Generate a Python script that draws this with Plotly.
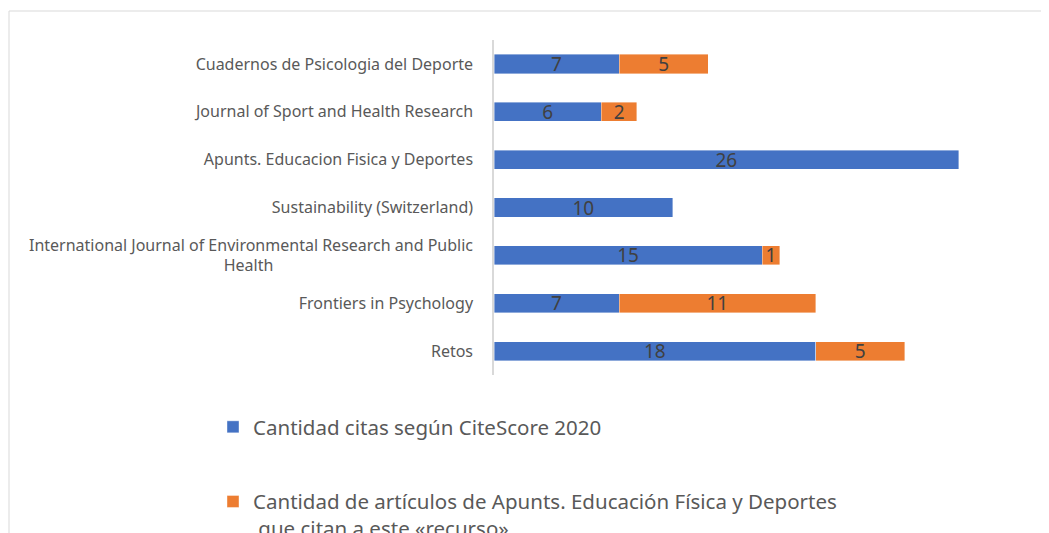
import plotly.graph_objects as go

categories = [
    "Retos",
    "Frontiers in Psychology",
    "International Journal of Environmental Research and Public<br>Health" + "\u00a0" * 48,
    "Sustainability (Switzerland)",
    "Apunts. Educacion Fisica y Deportes",
    "Journal of Sport and Health Research",
    "Cuadernos de Psicologia del Deporte",
]
citas = [18, 7, 15, 10, 26, 6, 7]
articulos = [5, 11, 1, None, None, 2, 5]
series_names = [
    "Cantidad citas según CiteScore 2020",
    "Cantidad de artículos de Apunts. Educación Física y Deportes<br> que citan a este «recurso»",
]

# figure sits at an 8px page offset
W, H = 1041, 525
L, R, T, B = 486, 19, 32, 158
pw, ph = W - L - R, H - T - B

fig = go.Figure()
for vals, name, color, grp in [
    (citas, series_names[0], "#4472C4", "a"),
    (articulos, series_names[1], "#ED7D31", "b"),
]:
    fig.add_trace(go.Bar(
        y=categories, x=vals, name=name, orientation="h",
        marker=dict(color=color, line=dict(color="rgba(255,255,255,0.5)", width=0.8)),
        text=[str(v) if v else "" for v in vals],
        textposition="inside", insidetextanchor="middle",
        textangle=0, constraintext="none",
        textfont=dict(family="Noto Sans", size=19, color="#404040"),
        legendgroup=grp,
        hoverinfo="skip",
    ))

def px(x):
    return (x - L) / pw
def py(y):
    return (H - B - y) / ph

fig.update_layout(
    width=W, height=H,
    barmode="stack", bargap=0.6,
    margin=dict(l=L, r=R, t=T, b=B, autoexpand=False),
    paper_bgcolor="white", plot_bgcolor="white",
    font=dict(family="Noto Sans", color="#595959"),
    xaxis=dict(range=[0, 30], visible=False, showgrid=False),
    yaxis=dict(showline=True, linecolor="#d9d9d9", linewidth=1.5, ticks="",
               ticklabelstandoff=16, automargin=False,
               tickfont=dict(size=16, color="#595959")),
    showlegend=True,
    legend=dict(x=px(205), y=py(399), xanchor="left", yanchor="top",
                orientation="v", tracegroupgap=45, traceorder="grouped",
                valign="top",
                font=dict(size=20.5, color="#595959"),
                bgcolor="rgba(0,0,0,0)"),
    shapes=[dict(type="rect", xref="paper", yref="paper",
                 x0=px(1), x1=px(1100), y0=py(3), y1=py(600),
                 line=dict(color="#d9d9d9", width=1), layer="below")],
)

fig.write_html("out.html")
